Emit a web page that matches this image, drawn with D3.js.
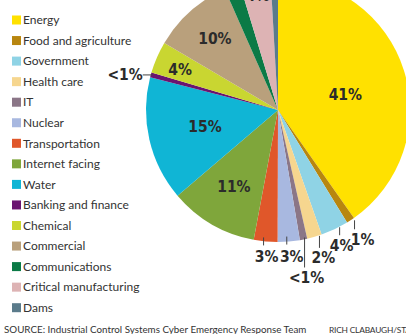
<!DOCTYPE html>
<html>
<head>
<meta charset="utf-8">
<script src="https://cdn.jsdelivr.net/npm/d3@7"></script>
<style>
  body { margin: 0; background: #fff; }
  .legend text { font-family: Lato, "Open Sans", sans-serif; font-size: 12px; fill: #333; }
  .pct { font-family: "Liberation Sans Narrow", "DejaVu Sans Condensed", sans-serif; font-weight: bold; font-size: 15.5px; fill: #2b2b2b; }
  .foot { font-family: Lato, sans-serif; font-size: 9.8px; fill: #333; }
  .credit { font-family: Lato, sans-serif; font-size: 8.4px; letter-spacing: -0.2px; fill: #333; }
  .leader { stroke: #444; stroke-width: 1; }
</style>
</head>
<body>
<div id="chart"></div>
<script>
var width = 406,
    height = 334;

// sectors, clockwise from 12 o'clock
var sectors = ["Energy", "Food and agriculture", "Government", "Health care", "IT",
  "Nuclear", "Transportation", "Internet facing", "Water", "Banking and finance",
  "Chemical", "Commercial", "Communications", "Critical manufacturing", "Dams"];

// share of incidents (percent)
var shares = [40.2, 1.0, 3.4, 1.8, 0.9, 2.7, 2.9, 10.8, 15.2, 0.6, 3.9, 9.9, 1.9, 3.8, 0.9];

// printed labels
var labels = ["41%", "1%", "4%", "2%", "<1%", "3%", "3%", "11%", "15%", "<1%", "4%", "10%", "", "4%", ""];

var colors = ["#ffe100", "#b8860f", "#8fd3e5", "#f6d68f", "#8b7687", "#a8b8e0",
  "#e0572a", "#7fa63b", "#10b5d5", "#6a1470", "#c9d631", "#b9a07c", "#0b7a46", "#ddb3b4", "#5b7b8b"];

var cx = 278, cy = 110, radius = 132;

var svg = d3.select("#chart").append("svg")
    .attr("width", width)
    .attr("height", height);

var color = d3.scaleOrdinal().domain(sectors).range(colors);

var pie = d3.pie().sort(null).value(function(d) { return d.value; });
var arc = d3.arc().innerRadius(0).outerRadius(radius);

var data = sectors.map(function(s, i) { return {name: s, value: shares[i], label: labels[i]}; });
var arcs = pie(data);

var g = svg.append("g").attr("transform", "translate(" + cx + "," + cy + ")");

g.selectAll(".slice")
    .data(arcs)
  .enter().append("path")
    .attr("class", "slice")
    .attr("fill", function(d) { return color(d.data.name); })
    .attr("d", arc);

// labels inside the slices: radius and angle nudge (degrees) per label
var inside = {
  "Energy": {r: 69, da: 5},
  "Water": {r: 75, da: 0},
  "Internet facing": {r: 88, da: 0},
  "Commercial": {r: 95, da: 0},
  "Chemical": {r: 106, da: -1},
  "Critical manufacturing": {r: 116, da: 0}
};

g.selectAll(".inlabel")
    .data(arcs.filter(function(d) { return inside[d.data.name]; }))
  .enter().append("text")
    .attr("class", "pct")
    .attr("text-anchor", "middle")
    .attr("dy", "0.35em")
    .attr("transform", function(d) {
      var o = inside[d.data.name];
      var a = (d.startAngle + d.endAngle) / 2 + o.da * Math.PI / 180;
      return "translate(" + [o.r * Math.sin(a), -o.r * Math.cos(a)] + ")";
    })
    .text(function(d) { return d.data.label; });

// labels below the pie with short vertical leaders
// dx: shift of leader from slice middle, top/bottom: leader ends relative to rim, tx/ty: text offset
var below = {
  "Food and agriculture": {dx: 4, top: 0, bottom: 9, tx: 8, ty: 25},
  "Government": {dx: 5, top: -2, bottom: 6, tx: 2, ty: 22},
  "Health care": {dx: 5, top: -1, bottom: 11, tx: 4, ty: 26},
  "IT": {dx: 1, top: -2, bottom: 28, tx: 2, ty: 44},
  "Nuclear": {dx: -2, top: -5, bottom: 3, tx: 5, ty: 20},
  "Transportation": {dx: -2, top: -4, bottom: 4, tx: 3, ty: 21}
};

var outer = g.selectAll(".outlabel")
    .data(arcs.filter(function(d) { return below[d.data.name]; }))
  .enter().append("g")
    .attr("class", "outlabel");

function rim(d) {
  var a = (d.startAngle + d.endAngle) / 2;
  return [radius * Math.sin(a), -radius * Math.cos(a)];
}

outer.append("line")
    .attr("class", "leader")
    .attr("x1", function(d) { return rim(d)[0] + below[d.data.name].dx; })
    .attr("x2", function(d) { return rim(d)[0] + below[d.data.name].dx; })
    .attr("y1", function(d) { return rim(d)[1] + below[d.data.name].top; })
    .attr("y2", function(d) { return rim(d)[1] + below[d.data.name].bottom; });

outer.append("text")
    .attr("class", "pct")
    .attr("text-anchor", "middle")
    .attr("x", function(d) { return rim(d)[0] + below[d.data.name].dx + below[d.data.name].tx; })
    .attr("y", function(d) { return rim(d)[1] + below[d.data.name].ty; })
    .text(function(d) { return d.data.label; });

// banking label sits to the left
var bank = arcs.filter(function(d) { return d.data.name == "Banking and finance"; })[0];
var bp = rim(bank);
g.append("line")
    .attr("class", "leader")
    .attr("x1", bp[0] - 8).attr("x2", bp[0] + 2)
    .attr("y1", bp[1]).attr("y2", bp[1]);
g.append("text")
    .attr("class", "pct")
    .attr("text-anchor", "end")
    .attr("x", bp[0] - 8)
    .attr("y", bp[1])
    .attr("dy", "0.35em")
    .text(bank.data.label);

// legend
var legend = svg.append("g")
    .attr("class", "legend");

var row = d3.scalePoint().domain(sectors).range([20, 307.7]);

var item = legend.selectAll("g")
    .data(sectors)
  .enter().append("g")
    .attr("transform", function(d) { return "translate(12," + row(d) + ")"; });

item.append("rect")
    .attr("x", 0).attr("y", -4.5)
    .attr("width", 9).attr("height", 9)
    .attr("fill", function(d) { return color(d); });

item.append("text")
    .attr("x", 11)
    .attr("dy", "0.35em")
    .text(function(d) { return d; });

svg.append("text")
    .attr("class", "foot")
    .attr("x", 4).attr("y", 333)
    .text("SOURCE: Industrial Control Systems Cyber Emergency Response Team");

svg.append("text")
    .attr("class", "credit")
    .attr("x", 329).attr("y", 333)
    .text("RICH CLABAUGH/STAFF");
</script>
</body>
</html>
